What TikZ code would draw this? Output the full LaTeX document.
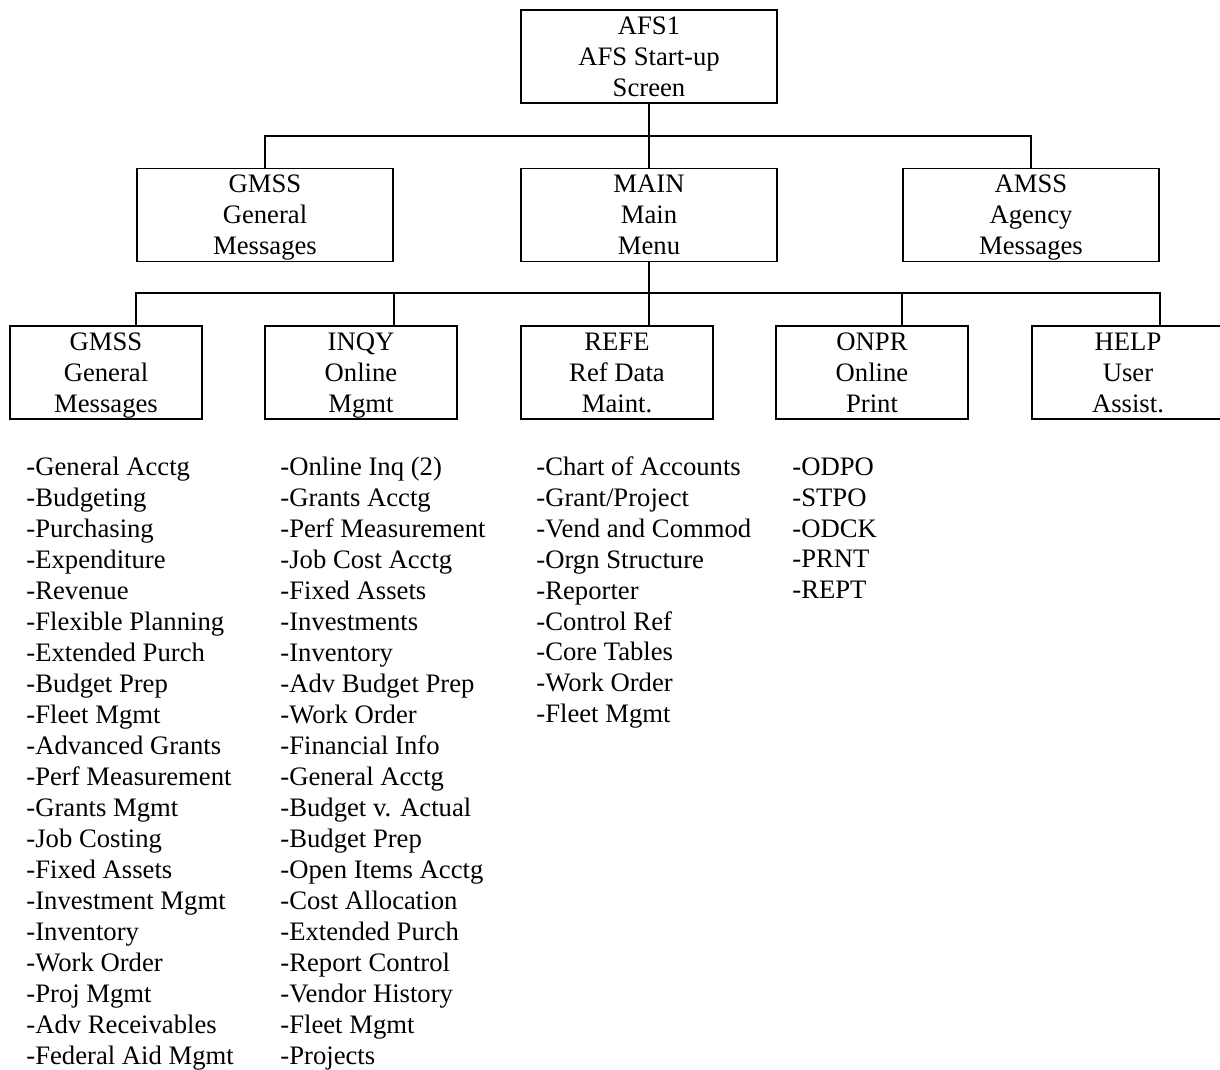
\documentclass[tikz,border=0pt]{standalone}
\usepackage{fontspec}
\setmainfont{Liberation Serif}
\usepackage{tikz}
\usetikzlibrary{positioning,calc}
\definecolor{ink}{HTML}{000000}
\tikzset{
  every node/.style={font=\fontsize{12}{13.93}\selectfont},
  % --- nodes
  scr/.style  = {draw=ink, line width=0.75pt, fill=white, align=center, text depth=0pt,
                 inner sep=0pt, minimum width=115.2pt, minimum height=41.9pt},
  sub/.style  = {scr, minimum width=86.4pt},
  lst/.style  = {align=left, inner sep=0pt, anchor=north west, text=ink},
  % --- edges
  e/.style    = {draw=ink, line width=0.75pt},
}

\begin{document}
\begin{tikzpicture}[x=0.45pt,y=-0.45pt]
  \useasboundingbox (0,0) rectangle (1220,1070);
  % top
  \node[scr] (afs) at (649,56.5) {AFS1\\AFS Start-up\\Screen};
  % second row
  \node[scr] (gmss) at (265,215) {GMSS\\General\\Messages};
  \node[scr] (main) at (649,215) {MAIN\\Main\\Menu};
  \node[scr] (amss) at (1031,215) {AMSS\\Agency\\Messages};
  % third row
  \node[sub] (gen) at (106,372.5) {GMSS\\General\\Messages};
  \node[sub] (inq) at (361,372.5) {INQY\\Online\\Mgmt};
  \node[sub] (ref) at (617,372.5) {REFE\\Ref Data\\Maint.};
  \node[sub] (onp) at (872,372.5) {ONPR\\Online\\Print};
  \node[sub] (hlp) at (1128,372.5) {HELP\\User\\Assist.};
  % buses
  \coordinate (b1) at (649,136);
  \coordinate (b2) at (649,293);
  \draw[e] (afs) -- (b1);
  \foreach \n in {gmss,main,amss} \draw[e] (b1) -| (\n.north);
  \draw[e] (main) -- (b2);
  \foreach \n/\m in {gen/gmss.west,inq/gmss.east,ref/main,onp/amss.west,hlp/amss.east}
    \draw[e] (b2) -| (\n.north -| \m);
  % lists
  \node[lst] (lgen) at (26,457) {-General Acctg\\-Budgeting\\-Purchasing\\-Expenditure\\-Revenue\\
    -Flexible Planning\\-Extended Purch\\-Budget Prep\\-Fleet Mgmt\\-Advanced Grants\\
    -Perf Measurement\\-Grants Mgmt\\-Job Costing\\-Fixed Assets\\-Investment Mgmt\\
    -Inventory\\-Work Order\\-Proj Mgmt\\-Adv Receivables\\-Federal Aid Mgmt};
  \node[lst] (linq) at (280,457) {-Online Inq (2)\\-Grants Acctg\\-Perf Measurement\\-Job Cost Acctg\\
    -Fixed Assets\\-Investments\\-Inventory\\-Adv Budget Prep\\-Work Order\\-Financial Info\\
    -General Acctg\\-Budget v. Actual\\-Budget Prep\\-Open Items Acctg\\-Cost Allocation\\
    -Extended Purch\\-Report Control\\-Vendor History\\-Fleet Mgmt\\-Projects};
  \node[lst] (lref) at (536,456) {-Chart of Accounts\\-Grant/Project\\-Vend and Commod\\
    -Orgn Structure\\-Reporter\\-Control Ref\\-Core Tables\\-Work Order\\-Fleet Mgmt};
  \node[lst] (lonp) at (792,457) {-ODPO\\-STPO\\-ODCK\\-PRNT\\-REPT};
\end{tikzpicture}
\end{document}
